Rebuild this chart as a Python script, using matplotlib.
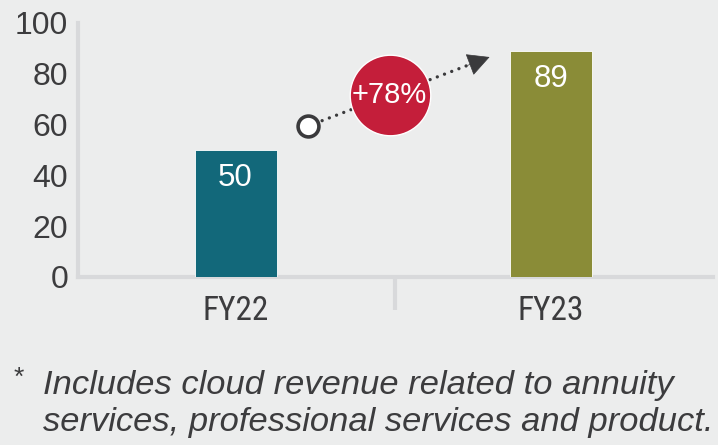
import matplotlib
matplotlib.use("Agg")
import matplotlib.pyplot as plt
from matplotlib import font_manager as fm

categories = ["FY22", "FY23"]
values = [50, 89]
bar_colors = ["#12687a", "#8a8c37"]
yticks = [0, 20, 40, 60, 80, 100]
growth_label = "+78%"
footnote = ["Includes cloud revenue related to annuity",
            "services, professional services and product."]

avail = {f.name for f in fm.fontManager.ttflist}
main = "Liberation Sans" if "Liberation Sans" in avail else "DejaVu Sans"
cond = next((f for f in ["Liberation Sans Narrow", "Roboto Condensed"] if f in avail), main)
plt.rcParams['font.family'] = [main, 'DejaVu Sans']

bg = "#eceded"
txt = "#3c3c3e"
spine_c = "#d8d9db"
dark = "#3a3a3c"

fig = plt.figure(figsize=(7.18, 4.45), dpi=100, facecolor=bg)
ax = fig.add_axes([78/718, (445-277)/445, (713-78)/718, (277-23)/445])
ax.set_facecolor(bg)

x = list(range(len(categories)))
ax.bar(x, values, width=0.26, color=bar_colors, edgecolor="white", linewidth=0.6, zorder=3)
for xi, v in zip(x, values):
    ax.text(xi, v - 11, str(v), ha="center", va="center", color="white",
            fontsize=22.5, zorder=4)

ax.set_xlim(-0.5, 1.515)
ax.set_ylim(0, 100)
ax.set_yticks(yticks)
ax.set_yticklabels([str(t) for t in yticks], fontsize=23, color=txt)
ax.set_xticks(x)
ax.set_xticklabels(categories, fontsize=24, color=txt, family=[cond, 'DejaVu Sans'])
ax.tick_params(axis="y", length=0, pad=7)
ax.tick_params(axis="x", length=0, pad=13)
for s in ["top", "right"]:
    ax.spines[s].set_visible(False)
for s in ["left", "bottom"]:
    ax.spines[s].set_color(spine_c)
    ax.spines[s].set_linewidth(3)
ax.plot([0.505, 0.505], [0, -13], color=spine_c, lw=3, clip_on=False, solid_capstyle="butt")

# growth arrow
x0, y0 = 0.229, 59.4
x1, y1 = 0.806, 86.6
xm, ym = x0 + (x1 - x0) * 0.90, y0 + (y1 - y0) * 0.90
ax.plot([x0, xm], [y0, ym], color=dark, lw=2.4, linestyle=(0, (0.01, 2.3)),
        dash_capstyle="round", zorder=5)
ax.annotate("", xy=(x1, y1), xytext=(xm - (x1 - x0) * 0.02, ym - (y1 - y0) * 0.02),
            arrowprops=dict(arrowstyle="-|>,head_length=1.45,head_width=0.75", color=dark,
                            lw=0.5, shrinkA=0, shrinkB=0), zorder=5)
ax.plot([x0], [y0], marker="o", ms=15, mfc="white", mec=dark, mew=2.6, zorder=6, clip_on=False)

# red circle
xc, yc = 0.489, 71.6
ax.plot([xc], [yc], marker="o", ms=58, mfc="#c41e3a", mec="white", mew=1, zorder=7, clip_on=False)
ax.text(xc, yc, growth_label, ha="center", va="center", color="white", fontsize=21, zorder=8)

# footnote
fig.text(14/718, 1 - 378/445, "*", fontsize=19, color=txt, va="center", ha="left")
fig.text(43/718, 1 - 394/445, footnote[0], fontsize=24.8, style="italic", color=txt,
         va="baseline", ha="left")
fig.text(43/718, 1 - 431/445, footnote[1], fontsize=24.8, style="italic", color=txt,
         va="baseline", ha="left")

fig.savefig("out.png", dpi=100, facecolor=bg)
